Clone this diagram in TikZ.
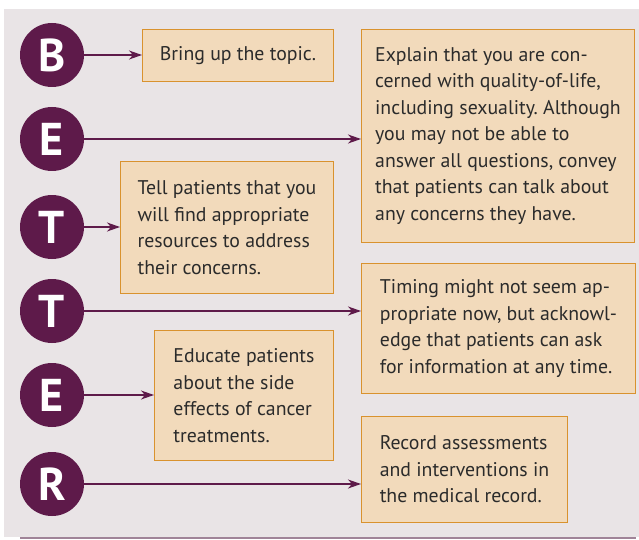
\documentclass[tikz,border=0pt]{standalone}
\usepackage{fontspec}
\setmainfont{PT Sans}
\usepackage{tikz}
\usetikzlibrary{arrows.meta}
\frenchspacing

\definecolor{plum}{HTML}{5E1A4A}
\definecolor{tan}{HTML}{F2DABB}
\definecolor{ochre}{HTML}{D9922E}
\definecolor{backdrop}{HTML}{E9E4E6}
\definecolor{ink}{HTML}{2B2B2B}
\definecolor{rulecol}{HTML}{A08498}

\begin{document}
\begin{tikzpicture}[x=1pt, y=-1pt,
  letter/.style={circle, fill=plum, text=white, minimum size=64pt, inner sep=0pt, font=\fontsize{46}{46}\selectfont\bfseries},
  tipbox/.style={rectangle, draw=ochre, fill=tan, line width=1pt, text=ink, align=left, anchor=north west, inner sep=0pt, font=\fontsize{19.8}{26.5}\selectfont},
  link/.style={draw=plum, line width=1.2pt, -{Stealth[length=13pt, width=9pt, inset=4pt]}, fill=plum}]
\useasboundingbox (0,0) rectangle (639,540);
\fill [backdrop] (4,9) rectangle (639,537);
\draw [rulecol, line width=1.5pt] (20,538) -- (636,538);

% letters
\node [letter] (b)  at (52,55)  {B};
\node [letter] (e1) at (52,139) {E};
\node [letter] (t1) at (52,227) {T};
\node [letter] (t2) at (52,311) {T};
\node [letter] (e2) at (52,395) {E};
\node [letter] (r)  at (52,484) {R};

% boxes
\node [tipbox, minimum width=191pt, minimum height=52pt] (topic) at (142,29) {Bring up the topic.};
\node [tipbox, minimum width=273pt, minimum height=213pt] (concern) at (361,29) {Explain that you are con-\\cerned with quality-of-life,\\including sexuality. Although\\you may not be able to\\answer all questions, convey\\that patients can talk about\\any concerns they have.};
\node [tipbox, minimum width=213pt, minimum height=132pt] (resources) at (120,161) {Tell patients that you\\will find appropriate\\resources to address\\their concerns.};
\node [tipbox, minimum width=274pt, minimum height=130pt] (timing) at (361,263) {Timing might not seem ap-\\propriate now, but acknowl-\\edge that patients can ask\\for information at any time.};
\node [tipbox, minimum width=179pt, minimum height=130pt] (effects) at (154,330) {Educate patients\\about the side\\effects of cancer\\treatments.};
\node [tipbox, minimum width=206pt, minimum height=106pt] (record) at (361,416) {Record assessments\\and interventions in\\the medical record.};

\draw [link] (b.east)  -- (b.east -| topic.west);
\draw [link] (e1.east) -- (e1.east -| concern.west);
\draw [link] (t1.east) -- (t1.east -| resources.west);
\draw [link] (t2.east) -- (t2.east -| timing.west);
\draw [link] (e2.east) -- (e2.east -| effects.west);
\draw [link] (r.east)  -- (r.east -| record.west);

\end{tikzpicture}
\end{document}
